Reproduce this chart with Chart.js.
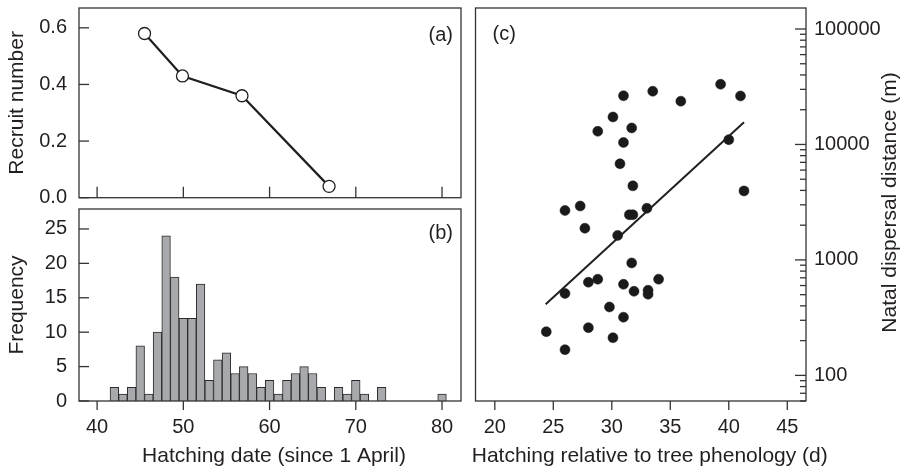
<!DOCTYPE html>
<html>
<head>
<meta charset="utf-8">
<script src="https://cdn.jsdelivr.net/npm/chart.js@4.4.1/dist/chart.umd.min.js"></script>
<style>
  body { margin: 0; background: #fff; }
  #wrap { position: relative; width: 901px; height: 471px; overflow: hidden; }
  canvas { position: absolute; }
</style>
</head>
<body>
<div id="wrap">
  <canvas id="recruitChart" width="470" height="205" style="left:0;top:0"></canvas>
  <canvas id="hatchChart" width="470" height="266" style="left:0;top:205px"></canvas>
  <canvas id="dispersalChart" width="431" height="471" style="left:470px;top:0"></canvas>
</div>
<script>
// (a) recruit number per hatching date
const recruitDays = [45.5, 49.9, 56.8, 66.9];
const recruitNumber = [0.58, 0.43, 0.36, 0.04];
const recruitTicks = [0, 0.2, 0.4, 0.6];

// (b) hatching date histogram, 1-day bins (empty bins left out)
const hatchDays = [42, 43, 44, 45, 46, 47, 48, 49, 50, 51, 52, 53, 54, 55, 56, 57, 58, 59, 60, 61, 62, 63, 64, 65, 66, 68, 69, 70, 71, 73, 80];
const hatchCounts = [2, 1, 2, 8, 1, 10, 24, 18, 12, 12, 17, 3, 6, 7, 4, 5, 4, 2, 3, 1, 3, 4, 5, 4, 2, 2, 1, 3, 1, 2, 1];
const hatchTicks = [40, 50, 60, 70, 80];
const freqTicks = [0, 5, 10, 15, 20, 25];

// (c) natal dispersal vs hatching relative to tree phenology
const phenoDays = [31.0, 33.5, 35.9, 39.3, 41.0, 30.1, 28.8, 31.7, 31.0, 40.0, 30.7, 31.8, 41.3, 26.0, 27.3, 31.5, 31.8, 33.0, 27.7, 30.5,
                   31.7, 28.0, 28.8, 31.0, 31.9, 33.1, 33.1, 34.0, 26.0, 29.8, 31.0, 28.0, 24.4, 30.1, 26.0];
const dispersal = [26400, 28900, 23700, 33200, 26300, 17300, 13000, 13900, 10400, 11000, 6800, 4380, 3960, 2680, 2930, 2460, 2460, 2800, 1880, 1630,
                   942, 641, 681, 615, 535, 546, 504, 681, 512, 391, 319, 259, 239, 212, 167];
const fitDays = [24.35, 41.3];
const fitDist = [413, 15600];
const phenoTicks = [20, 25, 30, 35, 40, 45];
const distTicks = [100, 1000, 10000, 100000];
const distMinor = [60, 70, 80, 90, 200, 300, 400, 500, 600, 700, 800, 900,
                   2000, 3000, 4000, 5000, 6000, 7000, 8000, 9000,
                   20000, 30000, 40000, 50000, 60000, 70000, 80000, 90000];

const ink = '#231f20';
const frameInk = '#333333';
const fontFamily = '"Liberation Sans", Arial, Helvetica, sans-serif';

Chart.defaults.font.family = fontFamily;
Chart.defaults.font.size = 20;
Chart.defaults.color = ink;

// box round the plot area, tick marks and free text
function framePlugin(marks, notes) {
    return {
        id: 'frame',
        afterDatasetsDraw(chart) {
            const ctx = chart.ctx;
            const a = chart.chartArea;
            ctx.save();
            ctx.strokeStyle = frameInk;
            ctx.lineWidth = 1.3;
            ctx.strokeRect(a.left, a.top, a.right - a.left, a.bottom - a.top);

            marks.forEach(m => {
                const scale = chart.scales[m.scale];
                m.values.forEach(v => {
                    const p = scale.getPixelForValue(v);
                    ctx.beginPath();
                    if (m.edge === 'bottom') {
                        ctx.moveTo(p, a.bottom);
                        ctx.lineTo(p, a.bottom + m.len);
                    } else if (m.edge === 'left') {
                        ctx.moveTo(a.left, p);
                        ctx.lineTo(a.left + m.len, p);
                    } else {
                        ctx.moveTo(a.right, p);
                        ctx.lineTo(a.right + m.len, p);
                    }
                    ctx.stroke();
                });
            });

            ctx.fillStyle = ink;
            ctx.textBaseline = 'alphabetic';
            notes.forEach(n => {
                ctx.save();
                ctx.font = (n.size || 20) + 'px ' + fontFamily;
                ctx.textAlign = n.align || 'left';
                ctx.translate(n.x(a), n.y(a));
                if (n.rotate) ctx.rotate(n.rotate);
                ctx.fillText(n.text, 0, 0);
                ctx.restore();
            });
            ctx.restore();
        }
    };
}

const baseOptions = {
    responsive: false,
    animation: false,
    devicePixelRatio: 1,
    events: []
};

function fixedTicks(values) {
    return scale => { scale.ticks = values.map(v => ({ value: v })); };
}

// fixed axis size, no extra room for half labels
function fixedSize(width, height) {
    return scale => {
        if (width !== null) scale.width = width;
        if (height !== null) scale.height = height;
        scale.paddingTop = 0;
        scale.paddingBottom = 0;
        scale.paddingLeft = 0;
        scale.paddingRight = 0;
    };
}

// (a)
new Chart(document.getElementById('recruitChart'), {
    type: 'scatter',
    data: {
        datasets: [{
            data: recruitDays.map((d, i) => ({ x: d, y: recruitNumber[i] })),
            showLine: true,
            borderColor: ink,
            borderWidth: 2.2,
            pointRadius: 6,
            pointBackgroundColor: '#fff',
            pointBorderColor: ink,
            pointBorderWidth: 1.3
        }]
    },
    options: {
        ...baseOptions,
        layout: { padding: { top: 8, right: 9, bottom: 6, left: 0 } },
        plugins: { legend: { display: false }, tooltip: { enabled: false } },
        scales: {
            x: { type: 'linear', display: false, min: 37.9, max: 82.2 },
            y: {
                min: 0, max: 0.67,
                afterFit: fixedSize(79, null),
                afterBuildTicks: fixedTicks(recruitTicks),
                grid: { display: false, drawTicks: false },
                border: { display: false },
                ticks: { padding: 12, callback: v => v.toFixed(1) },
                title: { display: true, text: 'Recruit number', font: { size: 21 }, padding: { top: 5, bottom: 0 } }
            }
        }
    },
    plugins: [framePlugin(
        [{ scale: 'x', values: hatchTicks, edge: 'bottom', len: -11 },
         { scale: 'y', values: recruitTicks, edge: 'left', len: 10 }],
        [{ text: '(a)', align: 'right', x: a => a.right - 8, y: a => a.top + 32.5 }]
    )]
});

// (b)
new Chart(document.getElementById('hatchChart'), {
    type: 'bar',
    data: {
        datasets: [{
            data: hatchDays.map((d, i) => ({ x: d, y: hatchCounts[i] })),
            backgroundColor: '#a7a9ac',
            borderColor: '#2b2b2b',
            borderWidth: 1,
            barPercentage: 1,
            categoryPercentage: 1
        }]
    },
    options: {
        ...baseOptions,
        layout: { padding: { top: 4, right: 9, bottom: 0, left: 0 } },
        plugins: { legend: { display: false }, tooltip: { enabled: false } },
        scales: {
            x: {
                type: 'linear', min: 37.9, max: 82.2, offset: false,
                afterFit: fixedSize(null, 70),
                afterBuildTicks: fixedTicks(hatchTicks),
                grid: { display: false, drawTicks: false, offset: false },
                border: { display: false },
                ticks: { padding: 14, maxRotation: 0 }
            },
            y: {
                min: 0, max: 27.9,
                afterFit: fixedSize(79, null),
                afterBuildTicks: fixedTicks(freqTicks),
                grid: { display: false, drawTicks: false },
                border: { display: false },
                ticks: { padding: 12 },
                title: { display: true, text: 'Frequency', font: { size: 21 }, padding: { top: 5, bottom: 0 } }
            }
        }
    },
    plugins: [framePlugin(
        [{ scale: 'x', values: hatchTicks, edge: 'bottom', len: 9 },
         { scale: 'y', values: freqTicks, edge: 'left', len: 10 }],
        [{ text: '(b)', align: 'right', x: a => a.right - 8, y: a => a.top + 30 },
         { text: 'Hatching date (since 1 April)', align: 'center', size: 21,
           x: a => (a.left + a.right) / 2 + 4, y: a => a.bottom + 61 }]
    )]
});

// (c)
new Chart(document.getElementById('dispersalChart'), {
    type: 'scatter',
    data: {
        datasets: [{
            data: phenoDays.map((d, i) => ({ x: d, y: dispersal[i] })),
            pointRadius: 5,
            pointBackgroundColor: '#1a1a1a',
            pointBorderColor: '#1a1a1a',
            pointBorderWidth: 0.5
        }, {
            type: 'line',
            data: fitDays.map((d, i) => ({ x: d, y: fitDist[i] })),
            borderColor: ink,
            borderWidth: 2,
            pointRadius: 0,
            fill: false
        }]
    },
    options: {
        ...baseOptions,
        layout: { padding: { top: 8, right: 0, bottom: 0, left: 4 } },
        plugins: { legend: { display: false }, tooltip: { enabled: false } },
        scales: {
            x: {
                type: 'linear', min: 18.35, max: 46.6,
                afterFit: fixedSize(null, 70),
                afterBuildTicks: fixedTicks(phenoTicks),
                grid: { display: false, drawTicks: false },
                border: { display: false },
                ticks: { padding: 14, maxRotation: 0 }
            },
            y: {
                type: 'logarithmic', position: 'right', min: 60, max: 152000,
                afterFit: fixedSize(95, null),
                afterBuildTicks: fixedTicks(distTicks),
                grid: { display: false, drawTicks: false },
                border: { display: false },
                ticks: { padding: 8, callback: v => String(v) }
            }
        }
    },
    plugins: [framePlugin(
        [{ scale: 'x', values: phenoTicks, edge: 'bottom', len: 9 },
         { scale: 'y', values: distTicks, edge: 'right', len: -11 },
         { scale: 'y', values: distMinor, edge: 'right', len: -6 }],
        [{ text: '(c)', align: 'left', x: a => a.left + 17, y: a => a.top + 31.5 },
         { text: 'Hatching relative to tree phenology (d)', align: 'center', size: 21,
           x: a => (a.left + a.right) / 2 + 9, y: a => a.bottom + 61 },
         { text: 'Natal dispersal distance (m)', align: 'center', size: 21, rotate: -Math.PI / 2,
           x: a => a.right + 90, y: a => (a.top + a.bottom) / 2 - 2 }]
    )]
});
</script>
</body>
</html>
